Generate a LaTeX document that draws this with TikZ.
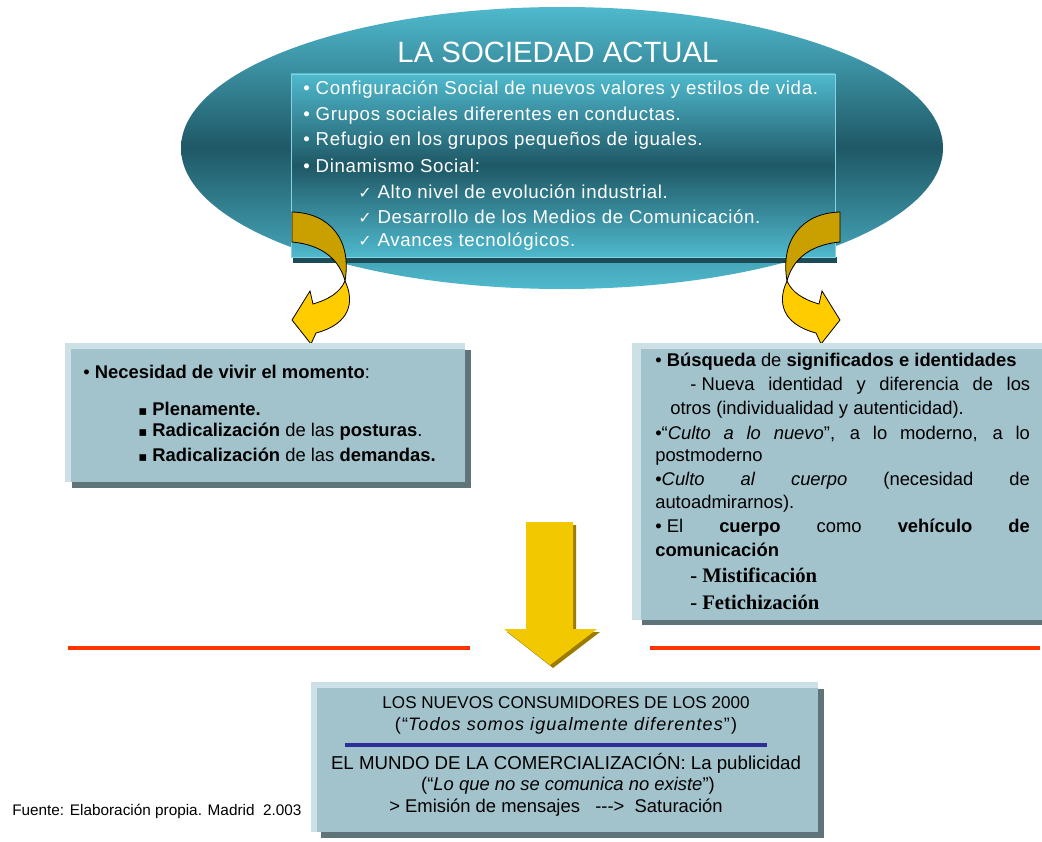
\documentclass[tikz,border=0pt]{standalone}
\usepackage{fontspec}
\setmainfont{Liberation Sans}
\newfontfamily\serifbold{Liberation Serif}
\newfontfamily\symfont{DejaVu Sans}
\newfontfamily\widesans[LetterSpace=6]{Liberation Sans}
\newfontfamily\panelsans[LetterSpace=3.5]{Liberation Sans}
\usetikzlibrary{positioning}

\definecolor{tealLight}{HTML}{4FB9CD}
\definecolor{tealDark}{HTML}{1F5866}
\definecolor{tealEdge}{HTML}{86D2E0}
\definecolor{boxFill}{HTML}{A3C3CC}
\definecolor{boxEdge}{HTML}{CCE0E5}
\definecolor{boxShadow}{HTML}{5F7479}
\definecolor{goldDark}{HTML}{C9A000}
\definecolor{goldLight}{HTML}{FFCC00}
\definecolor{arrowYellow}{HTML}{F2C900}
\definecolor{arrowShadow}{HTML}{9C7C00}
\definecolor{lineRed}{HTML}{FF3300}
\definecolor{lineBlue}{HTML}{2E2E9A}

\tikzset{
  whiteline/.style={text=white,anchor=west,inner sep=0pt,font=\panelsans\fontsize{14}{16}\selectfont},
  boxline/.style={anchor=west,inner sep=0pt,font=\fontsize{13.8}{16}\selectfont},
  midline/.style={anchor=center,inner sep=0pt,font=\fontsize{13.8}{16}\selectfont},
}

% the twisted arrow under the top panel
\newcommand{\swirlarrow}{%
  \filldraw[goldDark,draw=black,line width=0.6pt]
    (292,212) .. controls (330,213) and (352,240) .. (345,281)
    .. controls (340,262) and (325,245) .. (292,242) -- cycle;
  \filldraw[goldLight,draw=black,line width=0.6pt]
    (345,281) .. controls (355,302) and (350,324) .. (316,333)
    -- (311,344) -- (292,320) -- (310,291) -- (313,304)
    .. controls (330,299) and (340,292) .. (345,281) -- cycle;
}
\newcommand{\chk}{{\symfont\fontsize{12}{12}\selectfont ✓}}
\newcommand{\sqb}{{\symfont\fontsize{10}{12}\selectfont ▪}}

\begin{document}
\begin{tikzpicture}[x=0.75pt,y=-0.75pt]
  \useasboundingbox (0,0) rectangle (1042,842);
  \fill[white] (0,0) rectangle (1042,842);

  % top panel
  \shade[top color=tealLight,bottom color=tealLight,middle color=tealDark]
    (562,148) ellipse [x radius=381,y radius=141];
  \node[text=white,font=\fontsize{22}{24}\selectfont] (title) at (558,52) {LA SOCIEDAD ACTUAL};
  \fill[tealDark!85!black] (293,257) rectangle (837,263);
  \shade[top color=tealLight,bottom color=tealLight,middle color=tealDark,draw=tealEdge,line width=0.6pt]
    (291,74) rectangle (835,257);

  \foreach \y/\x/\txt [count=\i] in {
      90/303/{• Configuración Social de nuevos valores y estilos de vida.},
      116/303/{• Grupos sociales diferentes en conductas.},
      141/303/{• Refugio en los grupos pequeños de iguales.},
      166/303/{• Dinamismo Social:},
      192/358/{\chk\ Alto nivel de evolución industrial.},
      217/358/{\chk\ Desarrollo de los Medios de Comunicación.},
      242/358/{\chk\ Avances tecnológicos.}}
  {
    \node[whiteline] (soc\i) at (\x,\y) {\txt};
  }

  \swirlarrow
  \begin{scope}[shift={(1132,0)},xscale=-1]
    \swirlarrow
  \end{scope}

  % left panel
  \fill[boxShadow] (72,350) rectangle (471,488);
  \fill[boxEdge] (65,343) rectangle (465,482);
  \fill[boxFill] (71,349) rectangle (465,482);
  \node[boxline] (momento) at (83,372) {• \textbf{Necesidad de vivir el momento}:};
  \node[boxline] (pleno) at (138,409) {\sqb\ \textbf{Plenamente.}};
  \node[boxline] (posturas) at (138,432) {\sqb\ \textbf{Radicalización} de las \textbf{posturas}.};
  \node[boxline] (demandas) at (138,455) {\sqb\ \textbf{Radicalización} de las \textbf{demandas.}};

  % right panel
  \fill[boxShadow] (642,349) rectangle (1042,625);
  \fill[boxEdge] (632,343) rectangle (1042,620);
  \fill[boxFill] (641,349) rectangle (1042,620);
  \node[boxline] (busqueda) at (655,362) {• \textbf{Búsqueda} de \textbf{significados e identidades}};
  \node[boxline] (nueva) at (690,386) {\makebox[255pt][s]{\mbox{- Nueva} identidad y diferencia de los}};
  \node[boxline] (otros) at (670,410) {otros (individualidad y autenticidad).};
  \node[boxline] (culto) at (655,434) {\makebox[281pt][s]{•“\textit{Culto a lo nuevo}”, a lo moderno, a lo}};
  \node[boxline] (postmod) at (655,457) {postmoderno};
  \node[boxline] (cuerpo) at (655,481) {\makebox[281pt][s]{•\textit{Culto al cuerpo} (necesidad de}};
  \node[boxline] (autoadm) at (655,504) {autoadmirarnos).};
  \node[boxline] (vehiculo) at (655,528) {\makebox[281pt][s]{\mbox{• El} \textbf{cuerpo} como \textbf{vehículo de}}};
  \node[boxline] (comunic) at (655,550) {\textbf{comunicación}};
  \node[boxline,font=\serifbold\bfseries\fontsize{15.5}{17}\selectfont] (mistif) at (690,575) {- Mistificación};
  \node[boxline,font=\serifbold\bfseries\fontsize{15.5}{17}\selectfont] (fetich) at (690,602) {- Fetichización};

  % big arrow down
  \fill[arrowShadow] (529,525) -- (576,525) -- (576,632) -- (600,632) -- (553,668) -- (507,632) -- (529,632) -- cycle;
  \fill[arrowYellow] (526,522) -- (573,522) -- (573,629) -- (597,629) -- (550,665) -- (504,629) -- (526,629) -- cycle;

  % red rules
  \coordinate (redA) at (68,648);
  \coordinate (redB) at (470,648);
  \coordinate (redC) at (650,648);
  \coordinate (redD) at (1040,648);
  \draw[lineRed,line width=3pt] (redA) -- (redB);
  \draw[lineRed,line width=3pt] (redC) -- (redD);

  % bottom panel
  \fill[boxShadow] (321,689) rectangle (824,838);
  \fill[boxEdge] (311,682) rectangle (818,832);
  \fill[boxFill] (317,688) rectangle (818,832);
  \node[midline,font=\fontsize{12.8}{15}\selectfont] (consum) at (566,703) {LOS NUEVOS CONSUMIDORES DE LOS 2000};
  \node[midline,font=\widesans\fontsize{13.5}{16}\selectfont] (todos) at (566,726) {(“\textit{Todos somos igualmente diferentes}”)};
  \coordinate (blueA) at (345,745);
  \coordinate (blueB) at (767,745);
  \draw[lineBlue,line width=2.3pt] (blueA) -- (blueB);
  \node[midline,font=\fontsize{14}{16}\selectfont] (mundo) at (566,763) {EL MUNDO DE LA COMERCIALIZACIÓN: La publicidad};
  \node[midline] (existe) at (568,786) {(“\textit{Lo que no se comunica no existe}”)};
  \node[midline] (emision) at (556,808) {> Emisión de mensajes \ \ {-}{-}{-}>\ \ Saturación};

  \node[anchor=west,inner sep=0pt,font=\fontsize{11.5}{13}\selectfont] (fuente) at (12,811) {Fuente: Elaboración propia. Madrid\ \ 2.003};
\end{tikzpicture}
\end{document}
